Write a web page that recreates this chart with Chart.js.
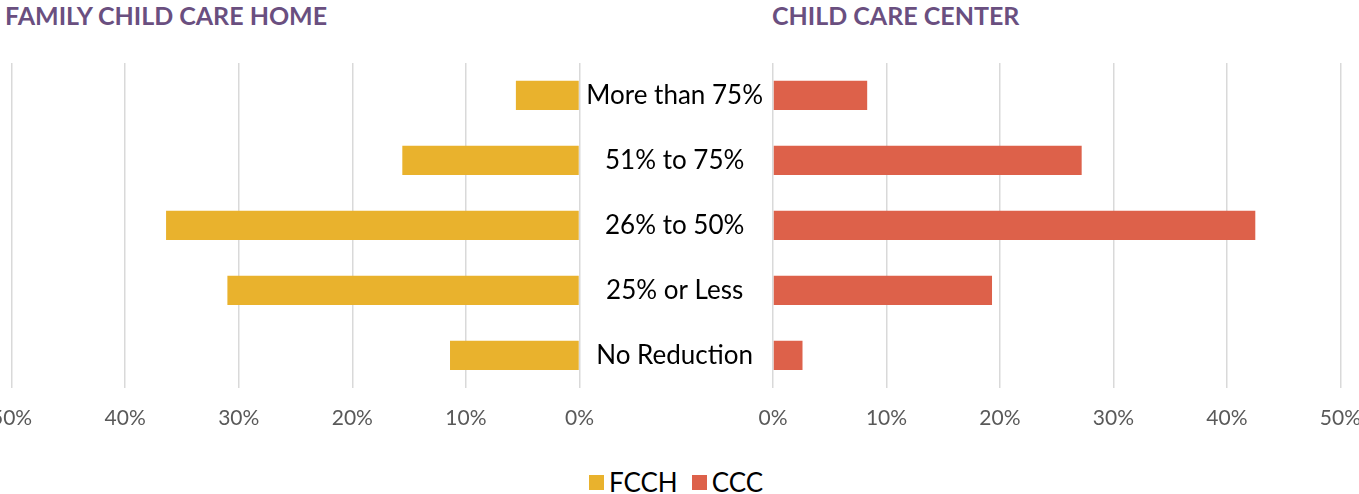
<!DOCTYPE html>
<html>
<head>
<meta charset="utf-8">
<script src="https://cdn.jsdelivr.net/npm/chart.js@4.4.0/dist/chart.umd.min.js"></script>
<style>
    body { margin: 0; width: 1359px; height: 494px; background: #fff; overflow: hidden; position: relative; font-family: Lato, "Open Sans", sans-serif; }
    .title { position: absolute; top: 1px; font-weight: bold; color: #6a4f80; font-size: 25px; line-height: 28px; white-space: nowrap; }
    .wrap { position: absolute; top: 0; height: 449px; }
    #legend { position: absolute; top: 466px; left: 0; width: 1352px; display: flex; justify-content: center; font-size: 26px; color: #000; }
    #legend .item { display: flex; align-items: center; margin: 0 7px; }
    #legend .box { width: 15px; height: 15px; margin-right: 5px; }
</style>
</head>
<body>
<div class="title" style="left:5px">FAMILY CHILD CARE HOME</div>
<div class="title" style="left:772px">CHILD CARE CENTER</div>
<div class="wrap" style="left:-27px;width:639px"><canvas id="fcch-chart"></canvas></div>
<div class="wrap" style="left:579px;width:800px"><canvas id="ccc-chart"></canvas></div>
<div id="legend"></div>
<script>
    // --- Data ---
    const categories = ['More than 75%', '51% to 75%', '26% to 50%', '25% or Less', 'No Reduction'];
    const fcchValues = [5.6, 15.6, 36.4, 31.0, 11.4];
    const cccValues = [8.3, 27.2, 42.5, 19.3, 2.6];
    const seriesNames = ['FCCH', 'CCC'];
    const seriesColors = ['#e9b22d', '#dd614a'];

    const gridColor = '#d9d9d9';
    const tickFont = { family: 'Lato, "Open Sans", sans-serif', size: 21 };

    const xAxis = (reverse) => ({
        min: 0,
        max: 50,
        reverse: reverse,
        border: { display: false },
        grid: { color: gridColor, lineWidth: 1.5, drawTicks: false },
        ticks: { stepSize: 10, padding: 18, color: '#595959', font: tickFont, callback: (v) => v + '%' }
    });

    const baseOptions = (reverse, padding) => ({
        indexAxis: 'y',
        responsive: true,
        maintainAspectRatio: false,
        animation: false,
        layout: { padding: padding },
        plugins: { legend: { display: false }, tooltip: { enabled: false } },
        scales: { x: xAxis(reverse) }
    });

    // --- Left chart (FCCH, reversed) ---
    const fcchOptions = baseOptions(true, { left: 30, right: 20, top: 63, bottom: 0 });
    fcchOptions.scales.y = { display: false };
    new Chart(document.getElementById('fcch-chart'), {
        type: 'bar',
        data: {
            labels: categories,
            datasets: [{ label: seriesNames[0], data: fcchValues, backgroundColor: seriesColors[0], barPercentage: 0.45, categoryPercentage: 1 }]
        },
        options: fcchOptions
    });

    // --- Right chart (CCC) with category labels in the middle ---
    const cccOptions = baseOptions(false, { left: 0, right: 0, top: 63, bottom: 0 });
    cccOptions.scales.y = {
        position: 'left',
        border: { display: false },
        grid: { display: false, drawTicks: false },
        ticks: { crossAlign: 'center', padding: 10, color: '#000', font: { family: 'Lato, "Open Sans", sans-serif', size: 26 } },
        afterFit: (scale) => { scale.width = 194; }
    };
    new Chart(document.getElementById('ccc-chart'), {
        type: 'bar',
        data: {
            labels: categories,
            datasets: [{ label: seriesNames[1], data: cccValues, backgroundColor: seriesColors[1], barPercentage: 0.45, categoryPercentage: 1 }]
        },
        options: cccOptions
    });

    // --- Legend ---
    const legend = document.getElementById('legend');
    seriesNames.forEach((name, i) => {
        const item = document.createElement('div');
        item.className = 'item';
        item.innerHTML = `<span class="box" style="background:${seriesColors[i]}"></span><span>${name}</span>`;
        legend.appendChild(item);
    });
</script>
</body>
</html>
